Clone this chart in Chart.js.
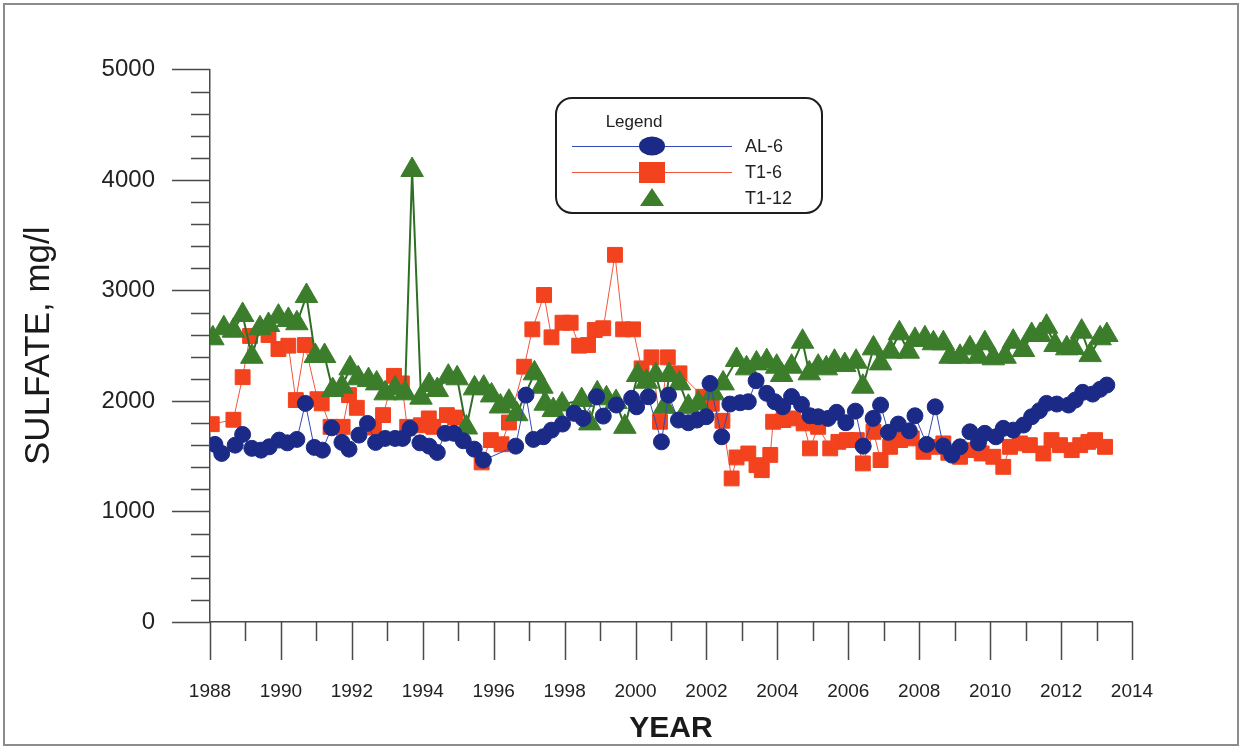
<!DOCTYPE html>
<html>
<head>
<meta charset="utf-8">
<script src="https://cdn.jsdelivr.net/npm/chart.js@4.4.0/dist/chart.umd.min.js"></script>
<style>
html, body { margin: 0; padding: 0; background: #fff; }
#wrap { position: relative; width: 1242px; height: 749px; }
#frame { position: absolute; left: 3px; top: 3px; width: 1232px; height: 739px; border: 2px solid #8c8c8c; pointer-events: none; }
</style>
</head>
<body>
<div id="wrap">
  <canvas id="myChart" width="1242" height="749"></canvas>
  <div id="frame"></div>
</div>
<script>
// sampling dates (decimal years) and sulfate values, mg/l
const al6Years = [1988.14, 1988.33, 1988.71, 1988.92, 1989.18, 1989.44, 1989.67, 1989.95, 1990.18, 1990.45,
  1990.69, 1990.94, 1991.17, 1991.43, 1991.72, 1991.92, 1992.20, 1992.44, 1992.67, 1992.94,
  1993.22, 1993.43, 1993.64, 1993.92, 1994.18, 1994.41, 1994.63, 1994.88, 1995.14, 1995.45,
  1995.71, 1996.62, 1996.91, 1997.12, 1997.40, 1997.63, 1997.94, 1998.27, 1998.52, 1998.90,
  1999.09, 1999.46, 1999.89, 2000.03, 2000.36, 2000.73, 2000.93, 2001.21, 2001.49, 2001.73,
  2001.99, 2002.10, 2002.43, 2002.66, 2002.95, 2003.18, 2003.40, 2003.70, 2003.93, 2004.15,
  2004.40, 2004.68, 2004.92, 2005.15, 2005.43, 2005.67, 2005.93, 2006.20, 2006.42, 2006.70,
  2006.91, 2007.13, 2007.41, 2007.72, 2007.88, 2008.21, 2008.45, 2008.68, 2008.92, 2009.15,
  2009.43, 2009.67, 2009.85, 2010.16, 2010.37, 2010.65, 2010.94, 2011.17, 2011.39, 2011.59,
  2011.88, 2012.21, 2012.40, 2012.61, 2012.89, 2013.10, 2013.29];
const al6Values = [1607, 1525, 1600, 1697, 1571, 1555, 1585, 1646, 1621, 1652,
  1978, 1580, 1555, 1757, 1625, 1564, 1691, 1797, 1625, 1661,
  1661, 1661, 1752, 1621, 1591, 1534, 1707, 1707, 1640, 1564,
  1465, 1591, 2053, 1652, 1676, 1736, 1791, 1888, 1842, 2038,
  1863, 1963, 2024, 1947, 2038, 1630, 2053, 1827, 1803, 1827,
  1857, 2159, 1676, 1972, 1984, 1993, 2183, 2069, 1993, 1947,
  2040, 1969, 1866, 1857, 1842, 1897, 1803, 1908, 1591, 1842,
  1963, 1716, 1791, 1730, 1866, 1607, 1947, 1591, 1510, 1585,
  1721, 1621, 1707, 1676, 1752, 1736, 1782, 1857, 1912, 1978,
  1972, 1963, 2008, 2078, 2062, 2105, 2144];

const t16Years = [1988.05, 1988.66, 1988.92, 1989.13, 1989.65, 1989.93, 1990.21, 1990.42, 1990.68, 1991.03,
  1991.15, 1991.40, 1991.74, 1991.92, 1992.14, 1992.62, 1992.88, 1993.19, 1993.41, 1993.56,
  1993.95, 1994.17, 1994.30, 1994.68, 1994.91, 1995.66, 1995.92, 1996.22, 1996.43, 1996.86,
  1997.09, 1997.42, 1997.63, 1997.94, 1998.17, 1998.41, 1998.66, 1998.85, 1999.09, 1999.42,
  1999.65, 1999.93, 2000.17, 2000.45, 2000.69, 2000.91, 2001.24, 2001.91, 2002.15, 2002.45,
  2002.71, 2002.85, 2003.18, 2003.41, 2003.56, 2003.80, 2003.88, 2004.17, 2004.45, 2004.74,
  2004.92, 2005.15, 2005.49, 2005.72, 2005.96, 2006.24, 2006.41, 2006.71, 2006.91, 2007.18,
  2007.46, 2007.79, 2008.12, 2008.40, 2008.68, 2008.82, 2009.15, 2009.43, 2009.76, 2010.09,
  2010.37, 2010.56, 2010.84, 2011.12, 2011.50, 2011.73, 2011.97, 2012.30, 2012.54, 2012.77,
  2012.96, 2013.24];
const t16Values = [1790, 1830, 2215, 2588, 2597, 2470, 2500, 2008, 2506, 2016,
  1978, 1766, 1766, 2053, 1938, 1760, 1872, 2227, 2159, 1766,
  1780, 1842, 1766, 1872, 1850, 1444, 1646, 1608, 1805, 2310,
  2648, 2959, 2576, 2708, 2708, 2500, 2506, 2642, 2658, 3322,
  2648, 2648, 2295, 2395, 1812, 2395, 2250, 2038, 1975, 1821,
  1299, 1489, 1525, 1419, 1374, 1512, 1812, 1827, 1842, 1797,
  1571, 1766, 1571, 1630, 1646, 1646, 1435, 1721, 1465, 1585,
  1646, 1661, 1540, 1585, 1616, 1531, 1495, 1555, 1525, 1495,
  1404, 1585, 1616, 1600, 1525, 1646, 1600, 1555, 1600, 1630,
  1646, 1585];

const t112Years = [1988.08, 1988.39, 1988.66, 1988.92, 1989.18, 1989.41, 1989.65, 1989.93, 1990.21, 1990.45,
  1990.72, 1990.97, 1991.23, 1991.46, 1991.72, 1991.95, 1992.18, 1992.47, 1992.70, 1992.94,
  1993.22, 1993.50, 1993.70, 1993.95, 1994.18, 1994.41, 1994.72, 1994.97, 1995.23, 1995.46,
  1995.72, 1995.94, 1996.19, 1996.43, 1996.65, 1997.15, 1997.36, 1997.45, 1997.68, 1997.93,
  1998.48, 1998.71, 1998.92, 1999.18, 1999.45, 1999.70, 2000.06, 2000.31, 2000.57, 2000.82,
  2000.95, 2001.24, 2001.49, 2001.77, 2002.19, 2002.47, 2002.85, 2003.13, 2003.41, 2003.70,
  2003.98, 2004.12, 2004.40, 2004.71, 2004.90, 2005.15, 2005.38, 2005.61, 2005.90, 2006.22,
  2006.41, 2006.71, 2006.91, 2007.19, 2007.44, 2007.69, 2007.88, 2008.16, 2008.40, 2008.68,
  2008.87, 2009.15, 2009.43, 2009.67, 2009.85, 2010.09, 2010.42, 2010.65, 2010.94, 2011.17,
  2011.41, 2011.59, 2011.83, 2012.16, 2012.35, 2012.58, 2012.82, 2013.10, 2013.29];
const t112Values = [2567, 2658, 2636, 2778, 2400, 2658, 2688, 2763, 2733, 2703,
  2950, 2407, 2407, 2099, 2129, 2295, 2205, 2189, 2159, 2069,
  2114, 2069, 4090, 2030, 2144, 2099, 2220, 2205, 1760, 2114,
  2120, 2050, 1950, 1993, 1880, 2250, 2129, 1975, 1918, 1968,
  2008, 1797, 2069, 2024, 1990, 1766, 2235, 2174, 2235, 1947,
  2235, 2159, 1947, 1978, 2069, 2159, 2371, 2295, 2340, 2360,
  2310, 2235, 2310, 2536, 2250, 2310, 2295, 2355, 2325, 2355,
  2129, 2476, 2340, 2446, 2612, 2446, 2552, 2567, 2522, 2522,
  2400, 2400, 2476, 2400, 2522, 2386, 2400, 2536, 2461, 2597,
  2597, 2672, 2506, 2476, 2480, 2627, 2415, 2567, 2597];

const yearMin = 1988, yearMax = 2014;
const sulfateMin = 0, sulfateMax = 5000;
const sulfateMajor = 1000, sulfateMinor = 200;

const FONT = "'Liberation Sans', Arial, Helvetica, sans-serif";

function pts(xs, ys) {
  return xs.map((x, i) => ({ x: x, y: ys[i] }));
}

// tick marks: long majors, short minors, drawn outside the plot
const tickMarks = {
  id: 'tickMarks',
  afterDraw(chart) {
    const ctx = chart.ctx;
    const xs = chart.scales.x, ys = chart.scales.y;
    const left = chart.chartArea.left, bottom = chart.chartArea.bottom;
    ctx.save();
    ctx.strokeStyle = '#4a4a4a';
    ctx.lineWidth = 1.5;
    ctx.beginPath();
    for (let v = sulfateMin; v <= sulfateMax; v += sulfateMinor) {
      const y = Math.round(ys.getPixelForValue(v)) + 0.5;
      const len = v % sulfateMajor === 0 ? 38 : 19;
      ctx.moveTo(left - len, y);
      ctx.lineTo(left, y);
    }
    for (let yr = yearMin; yr <= yearMax; yr++) {
      const x = Math.round(xs.getPixelForValue(yr)) + 0.5;
      const len = yr % 2 === 0 ? 38 : 19;
      ctx.moveTo(x, bottom);
      ctx.lineTo(x, bottom + len);
    }
    ctx.stroke();
    ctx.restore();
  }
};

// boxed legend inside the plot
const boxLegend = {
  id: 'boxLegend',
  afterDraw(chart) {
    const ctx = chart.ctx;
    const ds = chart.data.datasets;
    const bx = 556, by = 98, bw = 266, bh = 115;
    ctx.save();
    ctx.fillStyle = '#fff';
    ctx.strokeStyle = '#1e1e1e';
    ctx.lineWidth = 2;
    ctx.beginPath();
    ctx.roundRect(bx, by, bw, bh, 16);
    ctx.fill();
    ctx.stroke();

    ctx.fillStyle = '#222';
    ctx.font = '17px ' + FONT;
    ctx.textAlign = 'center';
    ctx.textBaseline = 'middle';
    ctx.fillText('Legend', 634, 122);

    const rows = [146, 172, 198];
    const mx = 652;
    ds.forEach((d, i) => {
      const y = rows[i];
      if (d.legendLine) {
        ctx.strokeStyle = d.borderColor;
        ctx.lineWidth = 1;
        ctx.beginPath();
        ctx.moveTo(572, y + 0.5);
        ctx.lineTo(732, y + 0.5);
        ctx.stroke();
      }
      ctx.fillStyle = d.pointBackgroundColor;
      ctx.beginPath();
      if (d.pointStyle === 'circle') {
        ctx.ellipse(mx, y, 13, 9.5, 0, 0, Math.PI * 2);
      } else if (d.pointStyle === 'rect') {
        ctx.rect(mx - 13, y - 10, 26, 21);
      } else {
        ctx.moveTo(mx, y - 10);
        ctx.lineTo(mx + 12, y + 8);
        ctx.lineTo(mx - 12, y + 8);
        ctx.closePath();
      }
      ctx.fill();
      ctx.fillStyle = '#222';
      ctx.font = '18px ' + FONT;
      ctx.textAlign = 'left';
      ctx.fillText(d.label, 745, y + 1);
    });
    ctx.restore();
  }
};

const ctx = document.getElementById('myChart').getContext('2d');
const myChart = new Chart(ctx, {
  type: 'scatter',
  data: {
    datasets: [{
      label: 'AL-6',
      data: pts(al6Years, al6Values),
      showLine: true,
      borderColor: '#3548b4',
      borderWidth: 1,
      pointStyle: 'circle',
      pointRadius: 8,
      pointHoverRadius: 8,
      pointBackgroundColor: '#1b2a86',
      pointBorderColor: '#1b2a86',
      pointBorderWidth: 1,
      legendLine: true,
      order: 0
    }, {
      label: 'T1-6',
      data: pts(t16Years, t16Values),
      showLine: true,
      borderColor: '#f0553e',
      borderWidth: 1,
      pointStyle: 'rect',
      pointRadius: 10.5,
      pointHoverRadius: 10.5,
      pointBackgroundColor: '#f2421e',
      pointBorderColor: '#f2421e',
      pointBorderWidth: 1,
      legendLine: true,
      order: 2
    }, {
      label: 'T1-12',
      data: pts(t112Years, t112Values),
      showLine: true,
      borderColor: '#2f6e25',
      borderWidth: 2,
      pointStyle: 'triangle',
      pointRadius: 13,
      pointHoverRadius: 13,
      pointBackgroundColor: '#3b7d2b',
      pointBorderColor: '#3b7d2b',
      pointBorderWidth: 1,
      legendLine: false,
      order: 1
    }]
  },
  options: {
    responsive: false,
    animation: false,
    layout: { padding: { top: 69, right: 110, left: 0, bottom: 0 } },
    plugins: {
      legend: { display: false },
      tooltip: { enabled: false }
    },
    scales: {
      x: {
        type: 'linear',
        min: yearMin,
        max: yearMax,
        afterFit: s => { s.height = 127; },
        grid: { display: false, drawTicks: false },
        border: { display: true, color: '#4a4a4a', width: 1.5 },
        ticks: {
          stepSize: 1,
          autoSkip: false,
          maxRotation: 0,
          padding: 58,
          color: '#222',
          font: { family: FONT, size: 19 },
          callback: v => (v % 2 === 0 ? String(v) : '')
        },
        title: {
          display: true,
          text: 'YEAR',
          color: '#1a1a1a',
          font: { family: FONT, size: 30, weight: 'bold' },
          padding: { top: 0, bottom: 2 }
        }
      },
      y: {
        min: sulfateMin,
        max: sulfateMax,
        afterFit: s => { s.width = 210; },
        grid: { display: false, drawTicks: false },
        border: { display: true, color: '#4a4a4a', width: 1.5 },
        ticks: {
          stepSize: sulfateMajor,
          padding: 55,
          color: '#222',
          font: { family: FONT, size: 24 },
          callback: v => String(v)
        },
        title: {
          display: true,
          text: 'SULFATE, mg/l',
          color: '#1a1a1a',
          font: { family: FONT, size: 35 },
          padding: { top: 18, bottom: 0 }
        }
      }
    }
  },
  plugins: [tickMarks, boxLegend]
});
</script>
</body>
</html>
